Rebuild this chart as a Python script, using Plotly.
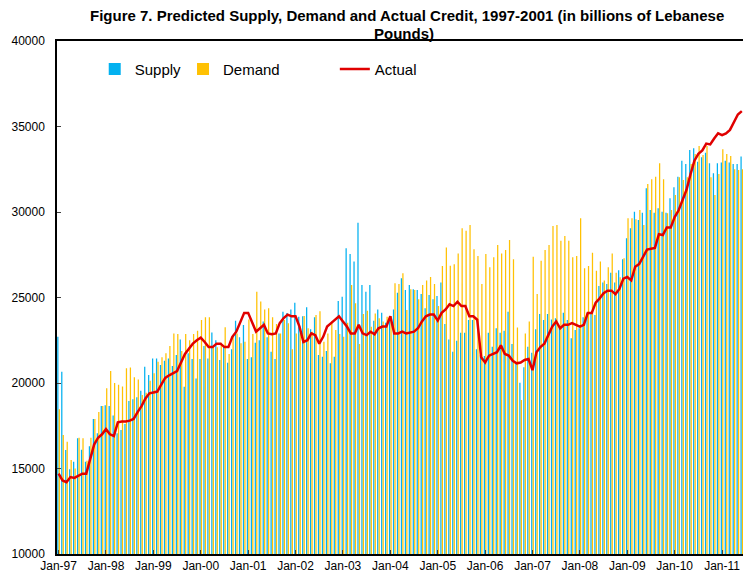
import plotly.graph_objects as go

# ---------------- data (monthly, Jan-1997 .. Jun-2011) ----------------
month_names = ["Jan", "Feb", "Mar", "Apr", "May", "Jun",
               "Jul", "Aug", "Sep", "Oct", "Nov", "Dec"]
years = ["97", "98", "99", "00", "01", "02", "03", "04",
         "05", "06", "07", "08", "09", "10", "11"]
months = [f"{m}-{y}" for y in years for m in month_names][:174]

tick_labels = ["Jan-97", "Jan-98", "Jan-99", "Jan-00", "Jan-01", "Jan-02",
               "Jan-03", "Jan-04", "Jan-05", "Jan-06", "Jan-07", "Jan-08",
               "Jan-09", "Jan-10", "Jan-11"]

supply = [
    22700, 20660, 16080, 14950, 15400, 16770, 16100, 15400, 16300, 17900, 17060, 18660,
    18700, 18660, 18100, 17060, 17250, 17600, 18950, 19050, 19160, 19550, 20950, 20470,
    21440, 21440, 21050, 21300, 21440, 21000, 21640, 22550, 19780, 21740, 21400, 20270,
    21400, 22160, 21440, 22960, 22500, 21350, 22120, 21190, 21970, 23640, 22670, 23390,
    21400, 21500, 22360, 22500, 23590, 22670, 21830, 21400, 22900, 24170, 24100, 24300,
    24700, 23880, 23900, 24430, 23140, 23840, 21640, 21540, 21870, 21150, 21540, 24800,
    25050, 27880, 27540, 27100, 29370, 25730, 25340, 25730, 23640, 24300, 24110, 23530,
    23680, 24300, 25280, 26120, 25440, 25730, 25480, 25440, 25200, 24370, 25150, 24900,
    25090, 25870, 23450, 22550, 21830, 22470, 22940, 22940, 23680, 23680, 21970, 21640,
    21580, 22940, 22120, 23200, 22940, 23060, 24170, 22280, 21150, 20020, 20920, 22120,
    21770, 23140, 24030, 23680, 24030, 23720, 23780, 23330, 24110, 23680, 22610, 23100,
    23200, 23840, 24110, 24070, 23980, 25670, 25870, 25790, 26450, 25870, 26600, 27230,
    28460, 29050, 30020, 29530, 29960, 31390, 30120, 29960, 30220, 30020, 29960, 30800,
    31450, 32060, 33000, 32810, 33630, 33730, 32940, 33200, 33470, 32850, 32260, 32850,
    32890, 33000, 32890, 32810, 32810, 33240,
]

demand = [
    18460, 16960, 16570, 15500, 15000, 16800, 16770, 15450, 16800, 17900, 18300, 18660,
    19700, 20700, 20000, 19900, 19800, 20860, 20900, 20330, 20200, 19300, 19430, 20130,
    20570, 21250, 21500, 21740, 22160, 22900, 22870, 21870, 22870, 22500, 22870, 23060,
    23680, 23840, 23840, 22090, 22090, 22360, 23260, 21700, 22750, 22900, 22320, 22410,
    23720, 22870, 25340, 24760, 24300, 24370, 23840, 23450, 22900, 23680, 23500, 21970,
    22900, 22900, 23920, 23200, 23000, 23980, 24200, 22410, 22900, 23590, 23100, 22870,
    22700, 23530, 25730, 24660, 22280, 24030, 24230, 23290, 24070, 23780, 23590, 23880,
    23920, 25830, 25790, 26420, 24270, 25480, 25440, 24900, 25730, 26000, 26200, 25790,
    24500, 26840, 27930, 26860, 26940, 27580, 29050, 28900, 29240, 27820, 27430, 25790,
    27540, 26770, 27350, 28070, 27580, 27780, 28360, 27230, 23240, 19000, 22900, 23590,
    27390, 25200, 27150, 27780, 28070, 29180, 29240, 28320, 28600, 28320, 27350, 27430,
    29630, 26710, 26840, 27620, 26570, 27100, 26000, 26770, 27580, 26450, 26180, 27290,
    29630, 29630, 29570, 30120, 29240, 31640, 31910, 32060, 32850, 31910, 29920, 30120,
    31000, 32030, 31870, 32030, 32810, 33390, 33860, 33330, 33860, 32030, 31000, 32220,
    33670, 33390, 33280, 32500, 32460, 32500,
]

actual = [
    14700, 14300, 14200, 14500, 14450, 14600, 14700, 14700, 15600, 16400, 16800, 17000,
    17300, 17000, 16900, 17700, 17750, 17750, 17800, 17900, 18300, 18650, 19100, 19400,
    19450, 19500, 19900, 20300, 20450, 20600, 20700, 21200, 21700, 22000, 22300, 22500,
    22650, 22400, 22100, 22100, 22300, 22300, 22100, 22100, 22700, 23000, 23600, 24100,
    24100, 23600, 23000, 23200, 23400, 22900, 22850, 22900, 23500, 23800, 24000, 23900,
    23900, 23300, 22400, 22500, 22900, 22800, 22300, 22700, 23300, 23500, 23700, 23900,
    23600, 23300, 22900, 22900, 23400, 22900, 22800, 23000, 22850, 23200, 23300, 23300,
    23900, 22900, 22900, 23000, 22900, 22950, 23000, 23200, 23600, 23900, 24000, 24000,
    23650, 24100, 24300, 24600, 24500, 24750, 24500, 24500, 23900, 23900, 23700, 21500,
    21200, 21600, 21700, 21800, 22200, 21700, 21600, 21300, 21150, 21200, 21350, 21400,
    20750, 21800, 22100, 22300, 22800, 23300, 23600, 23200, 23400, 23400, 23500, 23400,
    23300, 23400, 24100, 24100, 24700, 24950, 25250, 25400, 25400, 25200, 25500, 26100,
    26200, 26000, 26800, 26950, 27400, 27800, 27850, 27900, 28700, 28650, 29100, 29100,
    29700, 30100, 30700, 31300, 32200, 33000, 33400, 33600, 34000, 33950, 34300, 34600,
    34500, 34600, 34800, 35300, 35700, 35900,
]

# ---------------- figure ----------------
fig = go.Figure()
fig.add_trace(go.Bar(x=months, y=supply, name="Supply",
                     marker=dict(color="rgba(0,176,240,0.99)", line=dict(width=0)),
                     legend="legend"))
fig.add_trace(go.Bar(x=months, y=demand, name="Demand",
                     marker=dict(color="rgba(255,192,0,0.99)", line=dict(width=0)),
                     legend="legend3"))
fig.add_trace(go.Scatter(x=months, y=actual, name="Actual", mode="lines",
                         line=dict(color="#E00000", width=2.5),
                         legend="legend2"))

font_family = "Liberation Sans, Arial, sans-serif"
legend_common = dict(orientation="h", y=0.945, xanchor="left", yanchor="middle",
                     font=dict(family=font_family, size=15, color="black"),
                     bgcolor="rgba(0,0,0,0)", itemwidth=30, visible=True)

fig.update_layout(
    width=743, height=576,
    margin=dict(l=57, r=0, t=41, b=22, autoexpand=False),
    paper_bgcolor="white", plot_bgcolor="white",
    showlegend=True,
    barmode="group", bargap=0.25, bargroupgap=0.15,
    font=dict(family=font_family, size=12, color="black"),
    title=dict(
        text="<b>Figure 7. Predicted Supply, Demand and Actual Credit, 1997-2001 (in billions of Lebanese</b>",
        x=0.548, xanchor="center", y=1 - 16 / 576, yanchor="middle",
        font=dict(family=font_family, size=15, color="black"),
    ),
    annotations=[dict(
        text="<b>Pounds)</b>", xref="paper", yref="paper",
        x=(404 - 57) / 686, y=(554 - 33) / 513, xanchor="center", yanchor="middle",
        showarrow=False, font=dict(family=font_family, size=15, color="black"),
    )],
    legend=dict(x=0.055, **legend_common),
    legend3=dict(x=0.1837, **legend_common),
    legend2=dict(x=0.405, **legend_common),
    xaxis=dict(
        type="category",
        range=[-0.4, 173.3],
        tickmode="array", tickvals=tick_labels, ticktext=tick_labels,
        ticks="inside", ticklen=4, tickcolor="#404040",
        showline=True, linecolor="black", linewidth=1.5, mirror=True,
        showgrid=False, zeroline=False,
        tickfont=dict(family=font_family, size=12, color="black"),
        tickangle=0, automargin=False,
    ),
    yaxis=dict(
        range=[10000, 40000], dtick=5000, tick0=10000, tickformat="d",
        ticks="inside", ticklen=4, tickcolor="#404040",
        showline=True, linecolor="black", linewidth=1.5,
        showgrid=False, zeroline=False,
        tickfont=dict(family=font_family, size=12, color="black"),
        ticklabelstandoff=8, automargin=False,
    ),
)

fig.write_html("out.html",
               config={"displayModeBar": False},
               post_script="document.body.style.margin='0';document.body.style.overflow='hidden';")
